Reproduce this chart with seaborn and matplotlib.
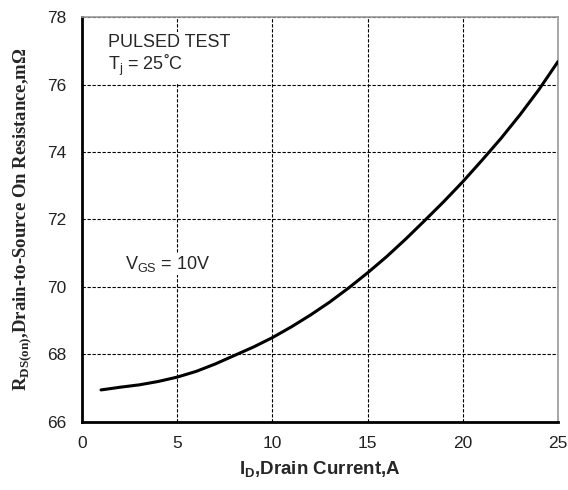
import matplotlib
matplotlib.use("Agg")
import matplotlib.pyplot as plt
import seaborn as sns
import pandas as pd

# drain current (A) vs on-resistance (mOhm)
drain_current = [1, 2, 3, 4, 5, 6, 7, 8, 9, 10, 11, 12, 13, 14, 15, 16, 17, 18, 19, 20, 21, 22, 23, 24, 25]
rds_on = [66.95, 67.03, 67.1, 67.2, 67.33, 67.5, 67.72, 67.97, 68.22, 68.5, 68.82, 69.17, 69.55,
          69.97, 70.42, 70.9, 71.42, 71.97, 72.53, 73.12, 73.75, 74.4, 75.1, 75.85, 76.68]
x_ticks = [0, 5, 10, 15, 20, 25]
y_ticks = [66, 68, 70, 72, 74, 76, 78]

df = pd.DataFrame({"id": drain_current, "rds": rds_on})

sns.set_style("white")
plt.rcParams['font.family'] = ['Liberation Sans', 'DejaVu Sans']

fig = plt.figure(figsize=(5.68, 4.90), dpi=100)
ax = fig.add_axes([0.1444, 0.1388, 0.838, 0.8265])

sns.lineplot(data=df, x="id", y="rds", color="black", linewidth=2.2, ax=ax, zorder=5)

ax.set_xlim(0, 25)
ax.set_ylim(66, 78)
ax.set_xticks(x_ticks)
ax.set_yticks(y_ticks)
ax.tick_params(length=0, labelsize=12.5, colors="#222222")
ax.tick_params(axis="y", pad=11)
ax.tick_params(axis="x", pad=10)
ax.grid(True, color="black", linestyle=(0, (3, 1.5)), linewidth=0.8)

for side in ["left", "bottom"]:
    ax.spines[side].set_color("black")
    ax.spines[side].set_linewidth(2)
for side in ["top", "right"]:
    ax.spines[side].set_color("#999999")
    ax.spines[side].set_linewidth(1.2)

ax.text(1.35, 77.5, "PULSED TEST\nT$_\\mathregular{j}$ = 25\u02daC", fontsize=13,
        va="top", ha="left", linespacing=1.1, zorder=4,
        bbox=dict(facecolor="white", edgecolor="none", pad=4))
ax.text(2.25, 70.68, "V$_\\mathregular{GS}$ = 10V", fontsize=13, va="center", ha="left",
        zorder=4, bbox=dict(facecolor="white", edgecolor="none", pad=1))

ax.set_xlabel("I$_\\mathregular{D}$,Drain Current,A", fontsize=13.5, fontweight="bold",
              labelpad=6)
ax.set_ylabel("R$_\\mathregular{DS(on)}$,Drain-to-Source On Resistance,m\u03a9", fontsize=13.5,
              fontweight="bold", family=["Liberation Serif", "DejaVu Serif"], labelpad=10)

fig.savefig("out.png", dpi=100)
